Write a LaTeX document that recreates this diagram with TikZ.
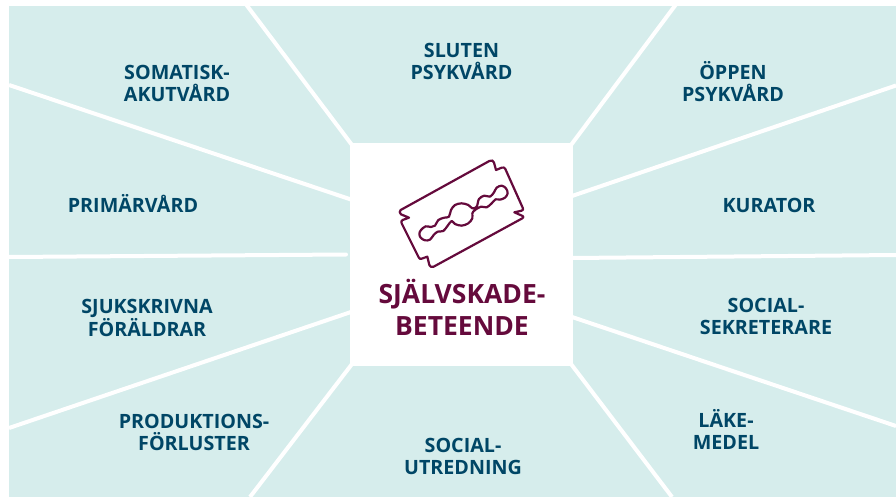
\documentclass[tikz,border=0pt]{standalone}
\usepackage{fontspec}
\setmainfont{Open Sans}
\definecolor{panel}{HTML}{D6EDEC}
\definecolor{navy}{HTML}{004666}
\definecolor{wine}{HTML}{650A3C}
\tikzset{
  lbl/.style={font=\fontsize{19.7}{22}\selectfont\bfseries,text=navy,align=center,inner sep=0pt},
  ttl/.style={font=\fontsize{26.5}{32}\selectfont\bfseries,text=wine,align=center,inner sep=0pt},
  sep/.style={draw=white,line width=4pt},
  blade/.style={draw=wine,line width=2.2pt,line join=round,xshift=395pt,yshift=-155pt,x=.33333pt,y=-.33333pt},
}
\begin{document}
\begin{tikzpicture}[x=1pt,y=-1pt]
\useasboundingbox (0,0) rectangle (896,497);
\fill[white] (0,0) rectangle (896,497);
\fill[panel] (9,6) rectangle (896,497);
\coordinate (tl) at (245,3); \coordinate (tla) at (352,145);
\coordinate (lu) at (9,85); \coordinate (lua) at (351,199.5);
\coordinate (lm) at (9,257); \coordinate (lma) at (346,254.5);
\coordinate (ll) at (9,428); \coordinate (lla) at (351,312);
\coordinate (bl) at (250,497); \coordinate (bla) at (352,364);
\coordinate (tr) at (677,3); \coordinate (tra) at (571,145);
\coordinate (ru) at (896,85.5); \coordinate (rua) at (572,196);
\coordinate (rm) at (896,255); \coordinate (rma) at (572,258);
\coordinate (rl) at (896,426); \coordinate (rla) at (572,317);
\coordinate (br) at (672,497); \coordinate (bra) at (571,364);
\draw[sep] (tl)--(tla); \draw[sep] (lu)--(lua);
\draw[sep,line cap=round] (lm)--(lma);
\draw[sep] (ll)--(lla); \draw[sep] (bl)--(bla);
\draw[sep] (tr)--(tra); \draw[sep] (ru)--(rua); \draw[sep] (rm)--(rma);
\draw[sep] (rl)--(rla); \draw[sep] (br)--(bra);
\node[fill=white,inner sep=0pt,minimum width=223pt,minimum height=223pt] (ctr) at (461.5,254.5) {};
\draw[blade]
 (17,165) -- (283,18) .. controls (290,14) and (296,17) .. (297,23)
 -- (303,45) -- (320,38) .. controls (325,36) and (329,38) .. (331,42)
 -- (383,158) .. controls (385,163) and (385,165) .. (380,167)
 -- (358,172) -- (383,183) .. controls (386,186) and (386,188) .. (382,190)
 -- (116,335) .. controls (110,338) and (104,335) .. (103,330)
 -- (97,305) -- (80,311) .. controls (76,313) and (73,311) .. (71,307)
 -- (20,205) .. controls (18,200) and (19,197) .. (23,195)
 -- (42,188) -- (18,178) .. controls (13,175) and (13,168) .. (17,165) -- cycle;
\draw[blade] plot[smooth cycle,tension=.55] coordinates {
 (78,225)(92,214)(108,216)(120,212)(130,195)(148,188)(162,185)(168,165)(180,150)(200,145)(220,150)(232,160)(245,155)(252,132)(268,122)(285,125)(297,112)(305,98)(320,92)(333,100)(338,115)(330,128)(315,134)(302,133)(290,145)(275,157)(258,155)(240,165)(232,175)(232,190)(220,205)(200,212)(180,207)(170,198)(158,212)(145,228)(128,230)(116,240)(105,254)(90,256)(77,248)(73,236)};
\node[ttl] (title) at (462,307) {SJÄLVSKADE-\\BETEENDE};
\node[lbl] (a) at (177,83) {SOMATISK-\\AKUTVÅRD};
\node[lbl] (b) at (461.5,61.5) {SLUTEN\\PSYKVÅRD};
\node[lbl] (c) at (733,82) {ÖPPEN\\PSYKVÅRD};
\node[lbl] (d) at (133,203) {PRIMÄRVÅRD};
\node[lbl] (e) at (769,205) {KURATOR};
\node[lbl] (f) at (147,318) {SJUKSKRIVNA\\FÖRÄLDRAR};
\node[lbl] (g) at (766,316) {SOCIAL-\\SEKRETERARE};
\node[lbl] (h) at (194,432) {PRODUKTIONS-\\FÖRLUSTER};
\node[lbl] (i) at (463,456) {SOCIAL-\\UTREDNING};
\node[lbl] (j) at (726,429.5) {LÄKE-\\MEDEL};
\end{tikzpicture}
\end{document}
